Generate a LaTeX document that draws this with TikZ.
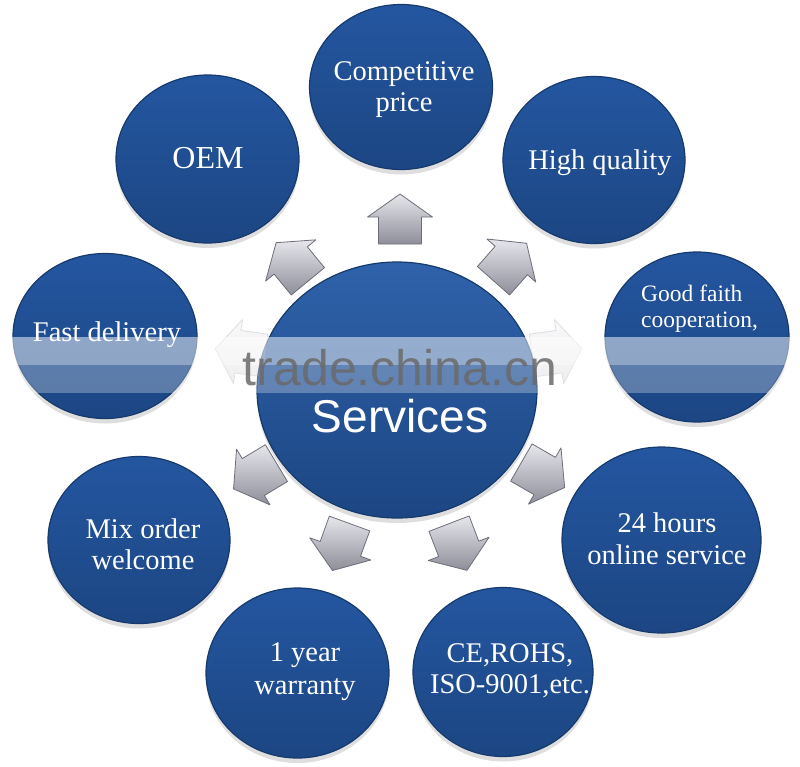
\documentclass[tikz,border=0pt]{standalone}
\usepackage{fontspec}
\setmainfont{Liberation Serif}
\newfontfamily\sansf{Liberation Sans}
\usetikzlibrary{shapes.geometric}

\definecolor{ballA}{HTML}{2456A0}
\definecolor{ballB}{HTML}{1C4683}
\definecolor{ballEdge}{HTML}{163A6C}
\definecolor{cenA}{HTML}{2F62AA}
\definecolor{cenB}{HTML}{1C4683}
\definecolor{arrA}{HTML}{E6E6EC}
\definecolor{arrB}{HTML}{8E8E9A}
\definecolor{arrEdge}{HTML}{6E6E7A}
\definecolor{wmgray}{HTML}{6A6A6A}

\tikzset{
  ball/.style={ellipse, draw=ballEdge, line width=1.2pt, top color=ballA, bottom color=ballB,
    inner sep=0pt,
    preaction={fill=black, opacity=0.13, transform canvas={yshift=-5pt}}},
  lab/.style={text=white, align=center, inner sep=0pt, font=\fontsize{28.5}{31}\selectfont},
  blockarrow/.pic={
    \path[top color=arrA, bottom color=arrB, draw=arrEdge, line width=0.8pt, line join=round]
      (-25,-21.5) -- (2,-21.5) -- (2,-32.5) -- (25,0) -- (2,32.5) -- (2,21.5) -- (-25,21.5) -- cycle;
  }
}

\begin{document}
\begin{tikzpicture}[x=1pt, y=-1pt]
\useasboundingbox[fill=white] (0,0) rectangle (800,766);

% outer circles
\node[ball, minimum width=183pt, minimum height=165pt] (price)    at (401,87)    {};
\node[ball, minimum width=183pt, minimum height=168pt] (oem)      at (207.5,159) {};
\node[ball, minimum width=182pt, minimum height=167pt] (quality)  at (594,160)   {};
\node[ball, minimum width=184pt, minimum height=170pt] (faith)    at (697,337)   {};
\node[ball, minimum width=199pt, minimum height=186pt] (hours)    at (661.5,540) {};
\node[ball, minimum width=180pt, minimum height=169pt] (ce)       at (503,672)   {};
\node[ball, minimum width=183pt, minimum height=170pt] (warranty) at (297.5,673) {};
\node[ball, minimum width=182pt, minimum height=167pt] (mix)      at (139,540)   {};
\node[ball, minimum width=184pt, minimum height=165pt] (fast)     at (105,336)   {};

% central circle
\node[ball, top color=cenA, bottom color=cenB, minimum width=280pt, minimum height=256pt] (center) at (397,390) {};

% arrows
\path (400,219) pic[rotate=90]    {blockarrow};
\path (292,262) pic[rotate=129.4] {blockarrow};
\path (510,262) pic[rotate=48.6]  {blockarrow};
\path (255,476) pic[rotate=211]   {blockarrow};
\path (543,475) pic[rotate=-30]   {blockarrow};
\path (341,547) pic[rotate=-110]  {blockarrow};
\path (458,547) pic[rotate=-69]   {blockarrow};
\path (240,352) pic[rotate=172, opacity=0.2] {blockarrow};
\path (557,352) pic[rotate=8, opacity=0.2]   {blockarrow};

% labels
\node[lab] (tprice) at (404,90) {Competitive\\price};
\node[lab, font=\fontsize{32}{34}\selectfont] (toem) at (208,158) {OEM};
\node[lab] (tquality) at (600,163) {High quality};
\node[lab, align=left, anchor=west, font=\fontsize{23.5}{26}\selectfont] (tfaith) at (641,309) {Good faith\\cooperation,};
\node[lab] (tfast) at (107,335) {Fast delivery};
\node[lab, font=\fontsize{28.5}{32}\selectfont] (thours) at (667,539) {24 hours\\online service};
\node[lab] (tmix) at (143,544) {Mix order\\welcome};
\node[lab, font=\fontsize{28.5}{33}\selectfont] (twarranty) at (305,672) {1 year\\warranty};
\node[lab] (tce) at (510,671) {CE,ROHS,\\ISO-9001,etc.};
\node[text=white, inner sep=0pt, font=\sansf\fontsize{46}{50}\selectfont] (tserv) at (400,416) {Services};

% watermark band
\fill[white, opacity=0.5] (8,337) rectangle (790,365);
\fill[white, opacity=0.28] (8,365) rectangle (790,393);
\node[text=wmgray, opacity=0.85, inner sep=0pt, font=\sansf\fontsize{50}{54}\selectfont] (wm) at (400,368) {trade.china.cn};
\end{tikzpicture}
\end{document}
